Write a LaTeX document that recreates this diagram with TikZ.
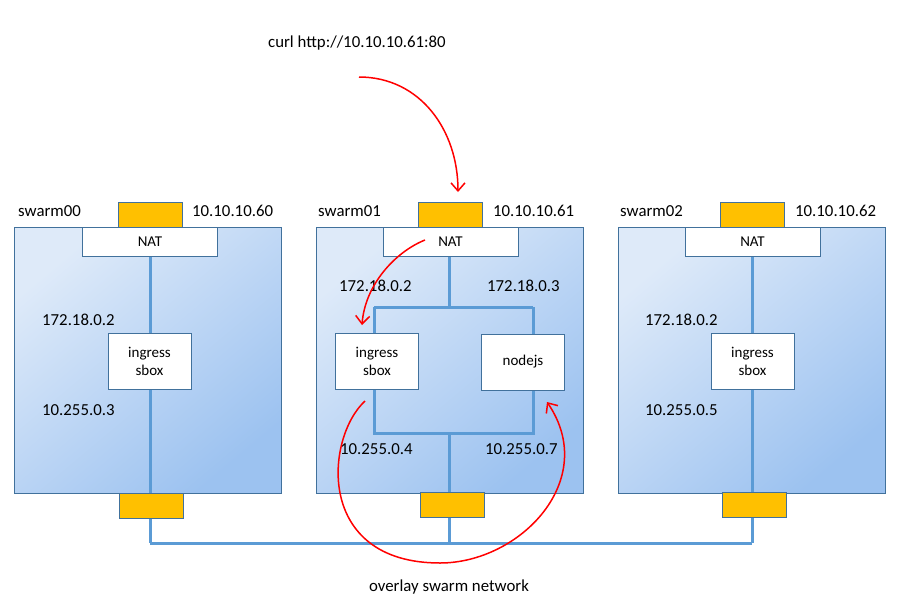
\documentclass[tikz,border=0pt]{standalone}
\usepackage{fontspec}
\setmainfont{Carlito}
\usetikzlibrary{arrows.meta}
\definecolor{boxborder}{HTML}{41719C}
\definecolor{boxlight}{HTML}{DEEAF9}
\definecolor{boxdark}{HTML}{9CC2F0}
\definecolor{netline}{HTML}{5B9BD5}
\definecolor{portfill}{HTML}{FFC000}
\definecolor{flow}{HTML}{FF0000}
\begin{document}
\begin{tikzpicture}[x=1pt,y=-1pt,
  hostbox/.style={draw=boxborder, line width=0.9pt, top color=boxlight, bottom color=boxdark, shading angle=40, minimum width=267pt, minimum height=266pt, inner sep=0pt, outer sep=0pt},
  port/.style={draw=boxborder, line width=0.8pt, fill=portfill, minimum width=64pt, minimum height=25pt, inner sep=0pt, outer sep=0pt},
  natbox/.style={draw=boxborder, line width=0.8pt, fill=white, minimum width=135pt, minimum height=29pt, inner sep=0pt, outer sep=0pt, font=\fontsize{15}{17}\selectfont},
  svcbox/.style={draw=boxborder, line width=0.8pt, fill=white, minimum width=83pt, minimum height=56pt, inner sep=0pt, outer sep=0pt, align=center, font=\fontsize{15}{18}\selectfont},
  lbl/.style={inner sep=0pt, anchor=west, font=\fontsize{16.8}{19}\selectfont},
  wire/.style={draw=netline, line width=3pt},
  flowarrow/.style={draw=flow, line width=1.5pt, -{Straight Barb[length=8pt,width=14pt]}}
]
\useasboundingbox (0,0) rectangle (898,606);

% hosts
\node[hostbox, anchor=north west] (h0) at (14,227) {};
\node[hostbox, anchor=north west] (h1) at (316,227) {};
\node[hostbox, anchor=north west] (h2) at (618,227) {};

% coordinates for wiring
\coordinate (net0) at (150,543);
\coordinate (net1) at (449,543);
\coordinate (net2) at (752,543);
\coordinate (jl) at (374,307);
\coordinate (jr) at (533,307);
\coordinate (jc) at (449,307);
\coordinate (kl) at (374,433);
\coordinate (kr) at (533,433);
\coordinate (kc) at (449,433);

% wires (drawn before boxes)
\draw[wire] (net0) -- (net2);
\draw[wire] (150,256) -- (net0);
\draw[wire] (752,256) -- (net2);
\draw[wire] (449,256) -- (jc);
\draw[wire] (jl) -- (jr);
\draw[wire] (jl) -- (374,333);
\draw[wire] (jr) -- (533,334);
\draw[wire] (374,389) -- (kl) -- (kr) -- (533,390);
\draw[wire] (kc) -- (net1);

% ports
\node[port] (pt0) at (150,214.5) {};
\node[port] (pt1) at (450,214.5) {};
\node[port] (pt2) at (752,214.5) {};
\node[port] (pb0) at (151,505.5) {};
\node[port] (pb1) at (452,505) {};
\node[port] (pb2) at (754,505) {};

% NAT
\node[natbox] (nat0) at (150,241.5) {NAT};
\node[natbox] (nat1) at (450.5,241.5) {NAT};
\node[natbox] (nat2) at (752.5,241.5) {NAT};

% services
\node[svcbox] (ing0) at (149.5,361) {ingress\\sbox};
\node[svcbox] (ing1) at (377,361) {ingress\\sbox};
\node[svcbox] (node1) at (523,362) {nodejs};
\node[svcbox] (ing2) at (752.5,361) {ingress\\sbox};

% labels
\node[lbl] (s0) at (18,211) {swarm00};
\node[lbl] (s1) at (318,211) {swarm01};
\node[lbl] (s2) at (620,211) {swarm02};
\node[lbl] (ip0) at (192,211) {10.10.10.60};
\node[lbl] (ip1) at (493,211) {10.10.10.61};
\node[lbl] (ip2) at (795,211) {10.10.10.62};
\node[lbl] (a0) at (42,320) {172.18.0.2};
\node[lbl] (b0) at (42,410) {10.255.0.3};
\node[lbl] (a1) at (339,286) {172.18.0.2};
\node[lbl] (a1r) at (487,286) {172.18.0.3};
\node[lbl] (b1) at (340,449) {10.255.0.4};
\node[lbl] (b1r) at (485,449) {10.255.0.7};
\node[lbl] (a2) at (645,320) {172.18.0.2};
\node[lbl] (b2) at (645,410) {10.255.0.5};
\node[lbl] (curl) at (268,43) {curl http://10.10.10.61:80};
\node[lbl, anchor=center] (ovl) at (449,587) {overlay swarm network};

% flow arrows
\coordinate (f0) at (359,77);
\coordinate (f0e) at (458,192);
\coordinate (f1) at (425,240);
\coordinate (f1e) at (362,325);
\coordinate (f2) at (365,401);
\coordinate (fb) at (440,563);
\coordinate (f2e) at (547,402);
\draw[flowarrow] (f0) .. controls (420,77) and (458,130) .. (f0e);
\draw[flowarrow] (f1) .. controls (395,252) and (365,285) .. (f1e);
\draw[flowarrow] (f2) .. controls (325,438) and (315,563) .. (fb) .. controls (520,563) and (600,480) .. (f2e);
\end{tikzpicture}
\end{document}
